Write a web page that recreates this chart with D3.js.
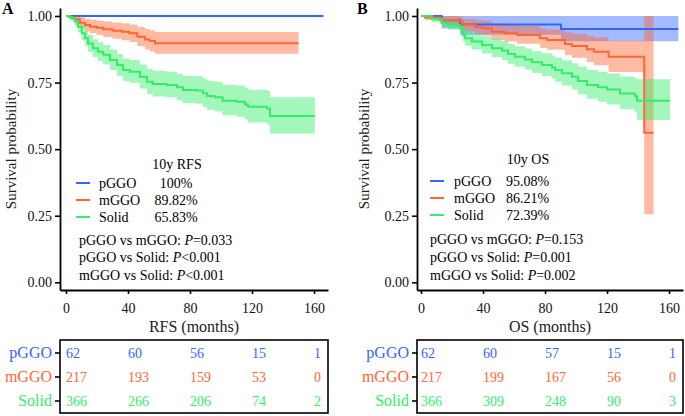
<!DOCTYPE html>
<html><head><meta charset="utf-8">
<script src="https://cdn.jsdelivr.net/npm/d3@7"></script>
<style>
body{margin:0;background:#fff}
svg{display:block}
text{font-family:"Liberation Serif","Times New Roman",serif}
</style>
</head><body>
<svg id="c" width="685" height="416"></svg>
<script>
const groups = ["pGGO", "mGGO", "Solid"];
const colors = ["#3366FF", "#FF6633", "#33EE66"];
const xTicks = [0, 40, 80, 120, 160];
const yTicks = [0, 0.25, 0.5, 0.75, 1];

// Kaplan-Meier steps: [month, survival, lower CI, upper CI]
const rfsPggo = [[0,1,1,1],[166,1,1,1]];
const rfsMggo = [
  [0,1,1,1],[3,0.995,0.986,1],[5.8,0.988,0.974,1],[9,0.975,0.955,0.995],
  [12.3,0.966,0.942,0.99],[15.5,0.960,0.935,0.986],[19.8,0.956,0.929,0.983],
  [24,0.950,0.921,0.979],[30,0.945,0.915,0.976],[36,0.941,0.909,0.973],
  [41,0.935,0.902,0.968],[46,0.922,0.886,0.959],[51,0.912,0.874,0.951],
  [54,0.906,0.867,0.946],[57.4,0.898,0.858,0.940],[150,0.898,0.858,0.940]];
const rfsSolid = [
  [0,1,1,1],[2,0.995,0.988,1],[3.7,0.991,0.981,1],[5.8,0.979,0.964,0.994],
  [7.7,0.960,0.940,0.980],[10.1,0.935,0.910,0.961],[12.3,0.916,0.888,0.945],
  [14.2,0.897,0.866,0.929],[17.4,0.879,0.846,0.913],[20.6,0.866,0.831,0.901],
  [23.9,0.854,0.818,0.891],[28.4,0.835,0.797,0.874],[32.9,0.816,0.776,0.857],
  [36.8,0.797,0.755,0.840],[41.3,0.791,0.749,0.835],[47.7,0.772,0.728,0.818],
  [52.3,0.753,0.707,0.801],[56,0.745,0.698,0.794],[65,0.741,0.694,0.791],
  [71.6,0.732,0.683,0.783],[75.5,0.722,0.672,0.775],[84.5,0.720,0.670,0.774],
  [88.4,0.710,0.658,0.765],[91,0.700,0.647,0.757],[96,0.695,0.641,0.753],
  [101,0.682,0.627,0.742],[110,0.678,0.622,0.739],[115.5,0.668,0.611,0.731],
  [117.4,0.659,0.600,0.723],[129.7,0.653,0.592,0.719],[131.6,0.624,0.559,0.695],
  [160.5,0.624,0.559,0.695]];

const osPggo = [[0,1,1,1],[13.3,0.984,0.953,1],[25.2,0.968,0.930,1],
  [90.3,0.951,0.905,1],[166,0.951,0.905,1]];
const osMggo = [
  [0,1,1,1],[2.6,0.994,0.985,1],[12.3,0.985,0.969,1],[23.9,0.979,0.960,0.998],
  [27,0.966,0.943,0.990],[35,0.958,0.932,0.985],[40,0.954,0.927,0.982],
  [45.8,0.941,0.911,0.972],[54,0.935,0.904,0.967],[62,0.929,0.896,0.963],
  [76.8,0.916,0.880,0.953],[81.3,0.910,0.873,0.949],[92.9,0.895,0.853,0.939],
  [97.4,0.887,0.843,0.933],[107,0.875,0.827,0.926],[111.6,0.866,0.815,0.920],
  [121,0.847,0.790,0.907],[144,0.562,0.256,1],[150,0.562,0.256,1]];
const osSolid = [
  [0,1,1,1],[7.1,0.988,0.977,0.999],[13.5,0.975,0.959,0.991],[17.4,0.966,0.948,0.985],
  [25.2,0.954,0.932,0.976],[27,0.929,0.903,0.956],[28.4,0.916,0.888,0.945],
  [32.9,0.904,0.874,0.935],[39.4,0.891,0.859,0.924],[45.8,0.879,0.845,0.914],
  [52.3,0.870,0.835,0.906],[56.1,0.857,0.821,0.895],[60.6,0.847,0.809,0.886],
  [67.1,0.837,0.798,0.878],[71.6,0.826,0.786,0.868],[78,0.816,0.774,0.860],
  [84.5,0.807,0.764,0.852],[86.5,0.797,0.753,0.844],[91,0.785,0.739,0.834],
  [97.4,0.772,0.724,0.823],[101.3,0.756,0.706,0.810],[107,0.741,0.689,0.797],
  [114.2,0.732,0.678,0.790],[120,0.724,0.668,0.784],[128.4,0.709,0.650,0.773],
  [138,0.699,0.638,0.766],[139.4,0.682,0.609,0.762],[160.6,0.682,0.609,0.762]];

// numbers at risk at 0, 40, 80, 120, 160 months
const rfsRiskPggo = [62, 60, 56, 15, 1];
const rfsRiskMggo = [217, 193, 159, 53, 0];
const rfsRiskSolid = [366, 266, 206, 74, 2];
const osRiskPggo = [62, 60, 57, 15, 1];
const osRiskMggo = [217, 199, 167, 56, 0];
const osRiskSolid = [366, 309, 248, 90, 3];

const rfsPct = ["100%", "89.82%", "65.83%"];
const osPct = ["95.08%", "86.21%", "72.39%"];
const rfsPvals = [["pGGO vs mGGO: ", "=0.033"], ["pGGO vs Solid: ", "<0.001"], ["mGGO vs Solid: ", "<0.001"]];
const osPvals = [["pGGO vs mGGO: ", "=0.153"], ["pGGO vs Solid: ", "=0.001"], ["mGGO vs Solid: ", "=0.002"]];

const svg = d3.select("#c");
const FONT = '"Liberation Serif","Times New Roman",serif';

function drawPanel(cfg) {
  const g = svg.append("g");
  const x = d3.scaleLinear().domain(cfg.xDomain).range([cfg.x0, cfg.x1]);
  const y = d3.scaleLinear().domain([-0.0289, 1.030]).range([290, 8]);
  const area = d3.area().curve(d3.curveStepAfter)
    .x(d => x(d[0])).y0(d => y(d[2])).y1(d => y(d[3]));
  const line = d3.line().curve(d3.curveStepAfter)
    .x(d => x(d[0])).y(d => y(d[1]));

  cfg.series.forEach((s, i) => {
    g.append("path").attr("d", area(s)).attr("fill", colors[i]).attr("fill-opacity", 0.45).attr("stroke", "none");
  });
  cfg.series.forEach((s, i) => {
    g.append("path").attr("d", line(s)).attr("fill", "none").attr("stroke", colors[i]).attr("stroke-width", 2);
  });

  const ya = g.append("g").attr("transform", `translate(${cfg.x0},0)`)
    .call(d3.axisLeft(y).tickValues(yTicks).tickFormat(d3.format(".2f")).tickSize(5).tickSizeOuter(0).tickPadding(3));
  const xa = g.append("g").attr("transform", "translate(0,290)")
    .call(d3.axisBottom(x).tickValues(xTicks).tickSize(4).tickSizeOuter(0).tickPadding(9));
  [ya, xa].forEach(a => {
    a.attr("font-family", FONT).attr("font-size", 14);
    a.select(".domain").attr("stroke-width", 1.8);
    a.selectAll(".tick line").attr("stroke-width", 1.6);
    a.selectAll("text").attr("fill", "#111");
  });

  // y title
  g.append("text").attr("transform", "rotate(-90)")
    .attr("x", -149).attr("y", cfg.yTitleX).attr("text-anchor", "middle")
    .attr("font-size", 15).attr("fill", "#222").text("Survival probability");
  // panel letter
  g.append("text").attr("x", cfg.letterX).attr("y", 14).attr("font-size", 16)
    .attr("font-weight", "bold").text(cfg.letter);
  // x title
  g.append("text").attr("x", (cfg.x0 + cfg.x1) / 2).attr("y", 332).attr("text-anchor", "middle")
    .attr("font-size", 16).attr("fill", "#222").text(cfg.xTitle);

  // legend
  const L = cfg.legend;
  g.append("text").attr("x", L.titleX).attr("y", L.titleY + 5).attr("text-anchor", "middle")
    .attr("font-size", 14).text(L.title);
  groups.forEach((gr, i) => {
    const yy = L.rowY[i];
    g.append("line").attr("x1", L.swX).attr("x2", L.swX + 14).attr("y1", yy).attr("y2", yy)
      .attr("stroke", colors[i]).attr("stroke-width", 2);
    g.append("text").attr("x", L.labX).attr("y", yy + 5).attr("font-size", 14).text(gr);
    g.append("text").attr("x", L.pctX).attr("y", yy + 5).attr("font-size", 14)
      .attr("text-anchor", L.pctAnchor).text(L.pct[i]);
  });
  L.pvals.forEach((p, i) => {
    const t = g.append("text").attr("x", L.pX).attr("y", L.pY[i] + 5).attr("font-size", 14);
    t.append("tspan").text(p[0]);
    t.append("tspan").attr("font-style", "italic").text("P");
    t.append("tspan").text(p[1]);
  });

  // risk table
  const rows = d3.scaleBand().domain(groups).range([341, 413]);
  g.append("rect").attr("x", cfg.x0).attr("y", 340).attr("width", cfg.x1 - cfg.x0).attr("height", 73)
    .attr("fill", "none").attr("stroke", "#000").attr("stroke-width", 1.6);
  cfg.risk.forEach((vals, i) => {
    vals.forEach((v, j) => {
      g.append("text").attr("x", x(xTicks[j])).attr("y", rows(groups[i]) + rows.bandwidth() / 2)
        .attr("dy", "0.35em").attr("font-size", 14).attr("fill", colors[i]).text(v);
    });
  });
  const ra = g.append("g").attr("transform", `translate(${cfg.x0},0)`)
    .call(d3.axisLeft(rows).tickSize(5).tickSizeOuter(0).tickPadding(3));
  ra.select(".domain").remove();
  ra.attr("font-family", FONT).attr("font-size", 16);
  ra.selectAll(".tick line").attr("stroke-width", 1.6);
  ra.selectAll("text").attr("fill", (d, i) => colors[i]);
}

drawPanel({
  letter: "A", letterX: 2, yTitleX: 15.5, xTitle: "RFS (months)",
  x0: 60, x1: 328, xDomain: [-3.87, 169.0],
  series: [rfsPggo, rfsMggo, rfsSolid],
  risk: [rfsRiskPggo, rfsRiskMggo, rfsRiskSolid],
  legend: { title: "10y RFS", titleX: 177, titleY: 164, swX: 76, labX: 99, pctX: 176, pctAnchor: "middle",
    rowY: [183, 200, 217], pct: rfsPct, pvals: rfsPvals, pX: 79, pY: [240, 257, 275] }
});
drawPanel({
  letter: "B", letterX: 357, yTitleX: 369, xTitle: "OS (months)",
  x0: 417, x1: 683, xDomain: [-2.58, 169.0],
  series: [osPggo, osMggo, osSolid],
  risk: [osRiskPggo, osRiskMggo, osRiskSolid],
  legend: { title: "10y OS", titleX: 528, titleY: 159, swX: 430, labX: 454, pctX: 506, pctAnchor: "start",
    rowY: [181, 198, 215], pct: osPct, pvals: osPvals, pX: 430, pY: [239, 257, 275] }
});
</script>
</body></html>
